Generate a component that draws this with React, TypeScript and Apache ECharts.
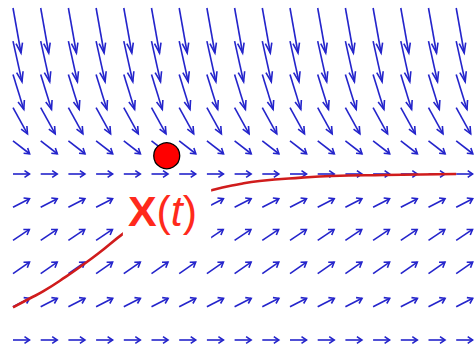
import React, { useEffect, useRef } from "react";
import * as echarts from "echarts";

// Grid of sample times (columns) and state levels (rows) of the slope field
const tGrid = [0, 1, 2, 3, 4, 5, 6, 7, 8, 9, 10, 11, 12, 13, 14, 15, 16];
const yLevels = [0, 1, 2, 3, 4, 5, 6, 7, 8, 9, 10];

// Direction vector drawn at each level (same for every column: autonomous ODE)
const slopeU = [0.596, 0.6, 0.596, 0.59, 0.596, 0.596, 0.6, 0.523, 0.39, 0.325, 0.289];
const slopeV = [0, 0.256, 0.346, 0.33, 0.256, 0, -0.39, -0.79, -1.054, -1.22, -1.355];

// Solution trajectory X(t)
const trajT = [0, 0.6, 1.1, 1.9, 2.5, 3.1, 4.0, 5.0, 6.0, 7.2, 8.2, 8.9, 10.4, 11.5, 13.4, 16.0];
const trajX = [0.98, 1.25, 1.47, 1.9, 2.25, 2.62, 3.22, 3.8, 4.2, 4.52, 4.7, 4.79, 4.89, 4.94, 4.97, 5.0];

// Highlighted state and label anchor
const markerPoint = [5.55, 5.55];
const labelAnchor = [5.56, 3.77];

const ARROW_COLOR = "#2424cb";
const FONT = "Liberation Sans, Arial, sans-serif";

export default function App() {
  const ref = useRef<HTMLDivElement>(null);

  useEffect(() => {
    if (!ref.current) return;
    const chart = echarts.init(ref.current, null, { renderer: "svg" });

    const arrowData: number[][] = [];
    yLevels.forEach((y, j) => {
      tGrid.forEach((t) => {
        arrowData.push([t, y, slopeU[j], slopeV[j]]);
      });
    });

    const trajData = trajT.map((t, i) => [t, trajX[i]]);

    chart.setOption({
      animation: false,
      backgroundColor: "#ffffff",
      grid: { left: 13, top: 8, width: 443.2, height: 332, containLabel: false },
      xAxis: { type: "value", min: 0, max: 16, show: false },
      yAxis: { type: "value", min: 0, max: 10, show: false },
      series: [
        {
          type: "custom",
          silent: true,
          z: 1,
          data: arrowData,
          renderItem: (_params: any, api: any) => {
            const t = api.value(0);
            const y = api.value(1);
            const u = api.value(2);
            const v = api.value(3);
            const p0 = api.coord([t, y]);
            const p1 = api.coord([t + u, y + v]);
            const dx = p1[0] - p0[0];
            const dy = p1[1] - p0[1];
            const L = Math.hypot(dx, dy);
            const ux = dx / L;
            const uy = dy / L;
            const back = Math.max(5, Math.min(0.24 * L, 10));
            const half = 3.3;
            const bx = p1[0] - ux * back;
            const by = p1[1] - uy * back;
            const h1 = [bx - uy * half, by + ux * half];
            const h2 = [bx + uy * half, by - ux * half];
            const style = { stroke: ARROW_COLOR, lineWidth: 1.6, fill: null };
            return {
              type: "group",
              children: [
                { type: "line", shape: { x1: p0[0], y1: p0[1], x2: p1[0], y2: p1[1] }, style },
                { type: "polyline", shape: { points: [h1, [p1[0], p1[1]], h2] }, style },
              ],
            };
          },
        },
        {
          type: "line",
          silent: true,
          z: 3,
          data: trajData,
          smooth: true,
          showSymbol: false,
          symbol: "none",
          lineStyle: { color: "#d01c1c", width: 2.6 },
        },
        {
          type: "scatter",
          silent: true,
          z: 5,
          data: [labelAnchor],
          symbolSize: 0,
          itemStyle: { opacity: 1 },
          label: {
            show: true,
            position: "inside",
            formatter: "{x|X}{p|(}{t|t}{p|)}",
            backgroundColor: "#ffffff",
            opacity: 1,
            padding: [1, 14, 9, 5],
            rich: {
              x: { fontFamily: FONT, fontWeight: "bold", fontSize: 43, color: "#ff2a1c", lineHeight: 48 },
              p: { fontFamily: FONT, fontSize: 43, color: "#ff2a1c", lineHeight: 48 },
              t: { fontFamily: FONT, fontStyle: "italic", fontSize: 43, color: "#ff2a1c", lineHeight: 48 },
            },
          },
        },
        {
          type: "scatter",
          silent: true,
          z: 6,
          data: [markerPoint],
          symbol: "circle",
          symbolSize: 26,
          itemStyle: { color: "#ff0000", borderColor: "#000000", borderWidth: 1.3, opacity: 1 },
        },
      ],
    });

    return () => chart.dispose();
  }, []);

  return (
    <div
      ref={ref}
      style={{ position: "fixed", left: 0, top: 0, width: 474, height: 350 }}
    />
  );
}
